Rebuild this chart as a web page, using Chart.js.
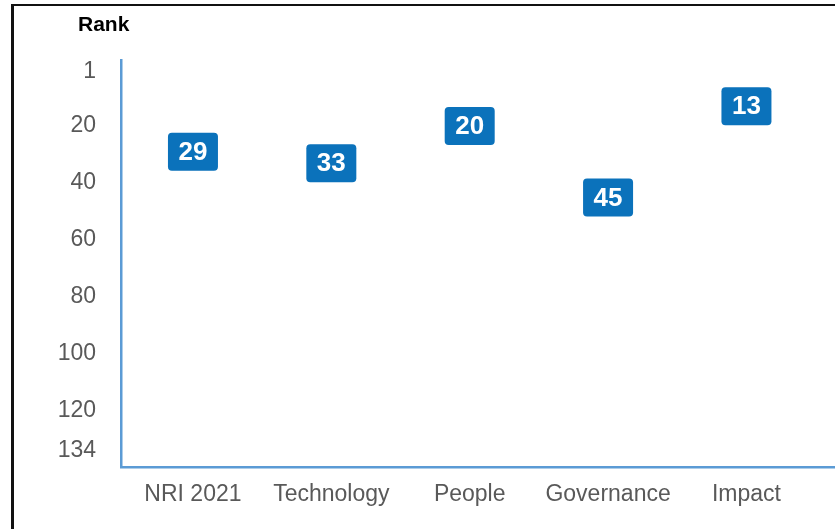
<!DOCTYPE html>
<html lang="en">
<head>
  <meta charset="UTF-8">
  <title>NRI 2021 Rank</title>
  <script src="https://cdn.jsdelivr.net/npm/chart.js"></script>
  <style>
    html, body {
      margin: 0;
      padding: 0;
      background: #ffffff;
      overflow: hidden;
    }
    .wrap {
      position: relative;
      width: 835px;
      height: 529px;
    }
    .frame {
      position: absolute;
      left: 11px;
      top: 4px;
      width: 900px;
      height: 600px;
      border-left: 3px solid #111;
      border-top: 2px solid #111;
    }
    .rank-title {
      position: absolute;
      left: 78px;
      top: 12px;
      font: bold 21px "Liberation Sans", Arial, sans-serif;
      color: #000;
    }
    canvas {
      position: absolute;
      left: 0;
      top: 0;
    }
  </style>
</head>
<body>
  <div class="wrap">
    <div class="frame"></div>
    <canvas id="rankChart" width="835" height="529"></canvas>
    <div class="rank-title">Rank</div>
  </div>

  <script>
    const categories = ['NRI 2021', 'Technology', 'People', 'Governance', 'Impact'];
    const ranks = [29, 33, 20, 45, 13];
    const rankTicks = [1, 20, 40, 60, 80, 100, 120, 134];

    const boxColor = '#0b72bb';
    const axisColor = '#5b9bd5';
    const labelColor = '#595959';

    // rounded blue badge with the rank printed inside
    const rankBadges = {
      id: 'rankBadges',
      afterDatasetsDraw(chart) {
        const ctx = chart.ctx;
        const meta = chart.getDatasetMeta(0);
        const w = 50, h = 38, r = 4;
        ctx.save();
        meta.data.forEach((pt, i) => {
          const x = pt.x - w / 2;
          const y = pt.y - h / 2;
          ctx.fillStyle = boxColor;
          ctx.beginPath();
          ctx.roundRect(x, y, w, h, r);
          ctx.fill();
          ctx.fillStyle = '#ffffff';
          ctx.font = 'bold 26px "Liberation Sans", Arial, sans-serif';
          ctx.textAlign = 'center';
          ctx.textBaseline = 'middle';
          ctx.fillText(String(ranks[i]), pt.x, pt.y + 1);
        });
        ctx.restore();
      }
    };

    const ctx = document.getElementById('rankChart').getContext('2d');
    new Chart(ctx, {
      type: 'scatter',
      data: {
        datasets: [{
          data: ranks.map((v, i) => ({ x: i, y: v })),
          pointRadius: 0,
          pointHoverRadius: 0
        }]
      },
      options: {
        responsive: false,
        animation: false,
        events: [],
        layout: { padding: { top: 60, left: 0, right: 0, bottom: 0 } },
        plugins: {
          legend: { display: false },
          tooltip: { enabled: false }
        },
        scales: {
          x: {
            type: 'linear',
            min: -0.52,
            max: 4.64,
            grid: { display: false, drawTicks: false },
            border: { display: true, color: axisColor, width: 2.5 },
            afterBuildTicks: scale => {
              scale.ticks = categories.map((c, i) => ({ value: i }));
            },
            afterFit: scale => { scale.height = 62; },
            ticks: {
              padding: 14,
              color: labelColor,
              font: { family: '"Liberation Sans", Arial, sans-serif', size: 23 },
              maxRotation: 0,
              autoSkip: false,
              callback: v => categories[v]
            }
          },
          y: {
            type: 'linear',
            reverse: true,
            min: -3.2,
            max: 139.6,
            grid: { display: false, drawTicks: false },
            border: { display: true, color: axisColor, width: 2.5 },
            afterBuildTicks: scale => {
              scale.ticks = rankTicks.map(v => ({ value: v }));
            },
            afterFit: scale => { scale.width = 121; },
            ticks: {
              padding: 25,
              color: labelColor,
              font: { family: '"Liberation Sans", Arial, sans-serif', size: 23 },
              autoSkip: false
            }
          }
        }
      },
      plugins: [rankBadges]
    });
  </script>
</body>
</html>
